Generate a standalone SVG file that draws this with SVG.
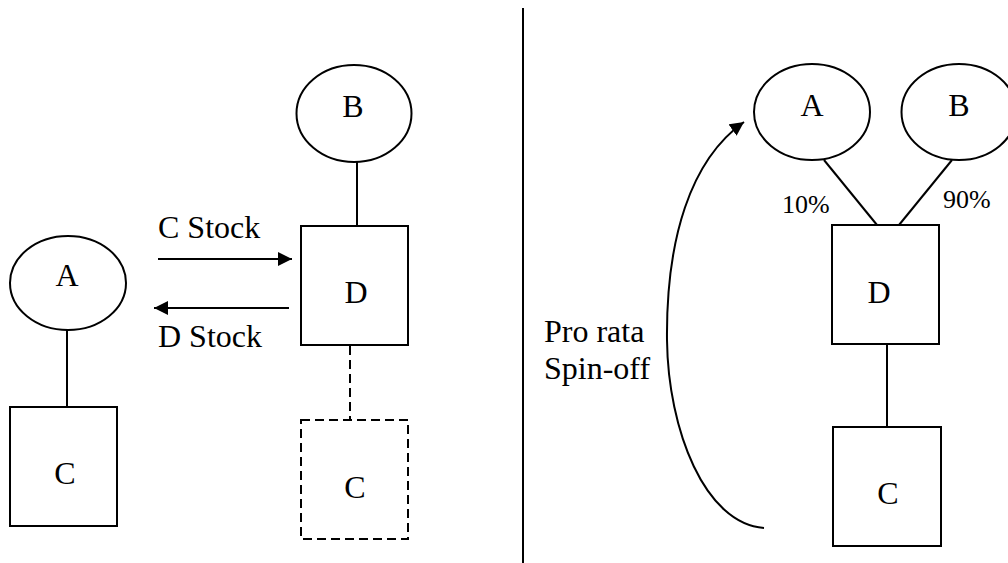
<svg xmlns="http://www.w3.org/2000/svg" width="1008" height="563" viewBox="0 0 1008 563">
<style>
.s{fill:#fff;stroke:#000;stroke-width:2}
.l{fill:none;stroke:#000;stroke-width:2}
.d{stroke-dasharray:9 5}
text{font-family:'Liberation Serif',serif;font-size:32px;fill:#000}
.c{text-anchor:middle}
.p{font-size:26px}
</style>
<defs>
<marker id="ah" viewBox="0 0 14 14" refX="14" refY="7" markerWidth="14" markerHeight="14" markerUnits="userSpaceOnUse" orient="auto">
<path d="M0,0 L14,7 L0,14 Z" fill="#000"/>
</marker>
</defs>
<g id="connectors">
<line class="l" x1="67" y1="330" x2="67" y2="407"/>
<line class="l" x1="357" y1="162" x2="357" y2="226"/>
<line class="l d" x1="350" y1="346" x2="350" y2="420"/>
<line class="l" x1="158" y1="259" x2="292" y2="259" marker-end="url(#ah)"/>
<line class="l" x1="289" y1="308" x2="154" y2="308" marker-end="url(#ah)"/>
<line class="l" x1="523" y1="8" x2="523" y2="563"/>
<line class="l" x1="824" y1="160" x2="877" y2="225"/>
<line class="l" x1="952" y1="160" x2="899" y2="225"/>
<line class="l" x1="887" y1="344" x2="887" y2="430"/>
<path class="l" d="M764,528 C705,524 668,430 667,340 C666,240 690,160 744,122" marker-end="url(#ah)"/>
</g>
<g id="left-A"><ellipse class="s" cx="68" cy="283" rx="58" ry="47"/><text class="c" x="67" y="286">A</text></g>
<g id="left-C"><rect class="s" x="10" y="407" width="107" height="119"/><text class="c" x="65" y="484">C</text></g>
<g id="left-B"><ellipse class="s" cx="354" cy="113.5" rx="57.5" ry="48.5"/><text class="c" x="353" y="117">B</text></g>
<g id="left-D"><rect class="s" x="301" y="226" width="107" height="119"/><text class="c" x="356" y="303">D</text></g>
<g id="left-C-dashed"><rect class="s d" x="301" y="420" width="107" height="119"/><text class="c" x="355" y="498">C</text></g>
<g id="label-cstock"><text x="158" y="238">C Stock</text></g>
<g id="label-dstock"><text x="158" y="347">D Stock</text></g>
<g id="right-A"><ellipse class="s" cx="812" cy="112" rx="58" ry="48"/><text class="c" x="812" y="116">A</text></g>
<g id="right-B"><ellipse class="s" cx="959" cy="112" rx="57.5" ry="48"/><text class="c" x="959" y="116">B</text></g>
<g id="right-D"><rect class="s" x="832" y="225" width="107" height="119"/><text class="c" x="879" y="303">D</text></g>
<g id="right-C"><rect class="s" x="833" y="427" width="108" height="119"/><text class="c" x="888" y="504">C</text></g>
<g id="label-10"><text class="p" x="782" y="213">10%</text></g>
<g id="label-90"><text class="p" x="943" y="208">90%</text></g>
<g id="label-prorata"><text x="544" y="342">Pro rata</text><text x="544" y="379">Spin-off</text></g>
</svg>
